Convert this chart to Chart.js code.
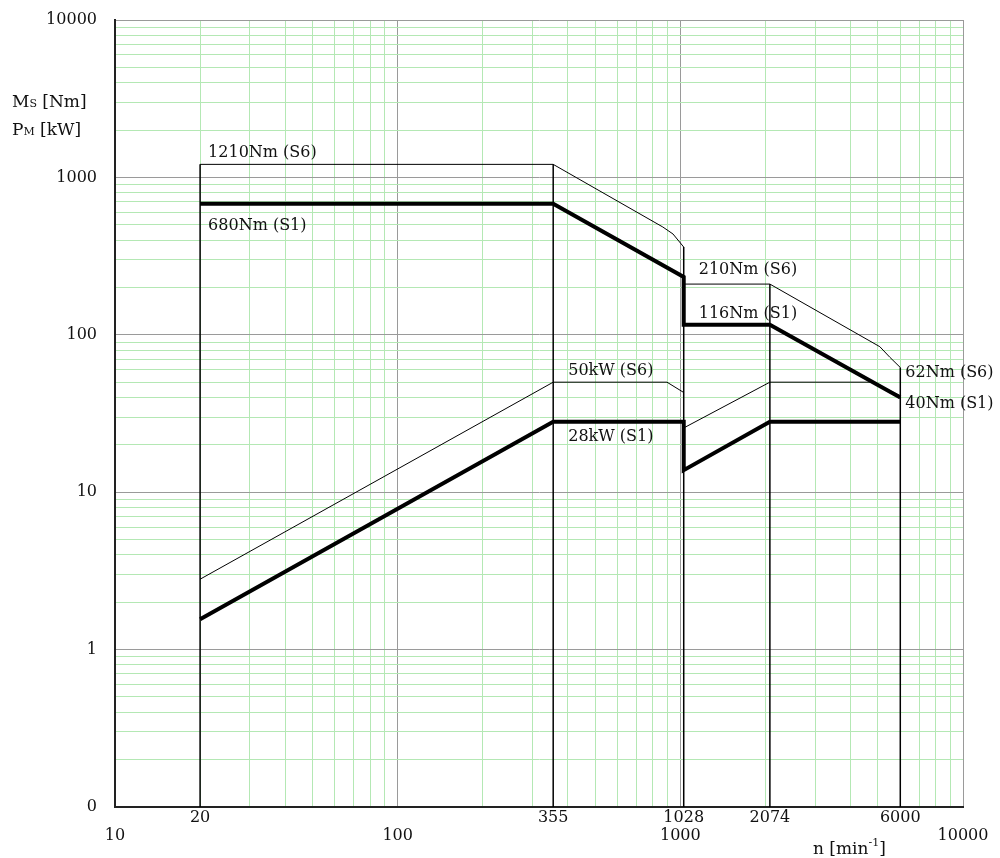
<!DOCTYPE html>
<html>
<head>
<meta charset="utf-8">
<script src="https://cdn.jsdelivr.net/npm/chart.js@4/dist/chart.umd.min.js"></script>
<style>
  body { margin: 0; background: #fff; }
  canvas { display: block; }
</style>
</head>
<body>
<canvas id="chart" width="1000" height="858"></canvas>
<script>
// Axis ticks
const xDecades = [10, 100, 1000, 10000];
const xDecadeLabels = ['10', '100', '1000', '10000'];
const xMarks = [20, 355, 1028, 2074, 6000];
const xMarkLabels = ['20', '355', '1028', '2074', '6000'];
const yDecades = [0.1, 1, 10, 100, 1000, 10000];
const yDecadeLabels = ['0', '1', '10', '100', '1000', '10000'];

// Torque curves (Nm) vs speed (min-1)
const s1TorqueRpm = [20, 355, 1028, 1028, 2074, 6000];
const s1TorqueNm = [680, 680, 233, 116, 116, 40];
const s6TorqueRpm = [20, 355, 867, 942, 1028];
const s6TorqueNm = [1210, 1210, 484, 437, 361];
const s6Torque2Rpm = [1028, 2074, 5080, 5510, 6000];
const s6Torque2Nm = [210, 210, 84, 72, 62];

// Power curves (kW) vs speed
const s1PowerRpm = [20, 355, 1028, 1028, 2074, 6000];
const s1PowerKw = [1.56, 28, 28, 13.8, 28, 28];
const s6PowerRpm = [20, 355, 897, 1028];
const s6PowerKw = [2.8, 50, 50, 43];
const s6Power2Rpm = [1028, 2074, 4800, 6000];
const s6Power2Kw = [25.6, 50, 50, 41];

// Vertical drop lines at the corner speeds
const dropRpm = [20, 355, 1028, 2074, 6000];
const dropTop = [1210, 1210, 361, 210, 62];
const dropBottom = 0.1;

// Curve labels, anchored at a data point
const curveLabels = [
    { text: '1210Nm (S6)', at: [20, 1210], dx: 8, dy: -12 },
    { text: '680Nm (S1)', at: [20, 680], dx: 8, dy: 22 },
    { text: '50kW (S6)', at: [355, 50], dx: 15, dy: -11 },
    { text: '28kW (S1)', at: [355, 28], dx: 15, dy: 15 },
    { text: '210Nm (S6)', at: [1028, 210], dx: 15, dy: -14 },
    { text: '116Nm (S1)', at: [1028, 116], dx: 15, dy: -11 },
    { text: '62Nm (S6)', at: [6000, 62], dx: 5, dy: 5 },
    { text: '40Nm (S1)', at: [6000, 40], dx: 5, dy: 6 }
];

const FONT = '"DejaVu Serif", "Liberation Serif", serif';
const MAJOR_GRID = '#9a9a9a';
const MINOR_GRID = 'rgb(180, 232, 180)';

function toPoints(xs, ys) {
    return xs.map((x, i) => ({ x: x, y: ys[i] }));
}

function near(a, b) {
    return Math.abs(a - b) < 1e-9 * Math.max(1, Math.abs(b));
}

// 1..9 x 10^k grid values between min and max
function logGrid(min, max) {
    const out = [];
    for (let e = Math.floor(Math.log10(min)); e <= Math.log10(max); e++) {
        for (let m = 1; m <= 9; m++) {
            const v = Number((m * Math.pow(10, e)).toPrecision(6));
            if (v >= min && v <= max) out.push(v);
        }
    }
    return out;
}

function lineSet(label, data, width) {
    return {
        label: label,
        data: data,
        showLine: true,
        borderColor: '#000',
        backgroundColor: '#000',
        borderWidth: width,
        pointRadius: 0,
        borderJoinStyle: 'miter',
        tension: 0
    };
}

const datasets = [
    lineSet('S1 torque', toPoints(s1TorqueRpm, s1TorqueNm), 4),
    lineSet('S6 torque', toPoints(s6TorqueRpm, s6TorqueNm), 1),
    lineSet('S6 torque 2', toPoints(s6Torque2Rpm, s6Torque2Nm), 1),
    lineSet('S1 power', toPoints(s1PowerRpm, s1PowerKw), 4),
    lineSet('S6 power', toPoints(s6PowerRpm, s6PowerKw), 1),
    lineSet('S6 power 2', toPoints(s6Power2Rpm, s6Power2Kw), 1)
];
dropRpm.forEach((r, i) => {
    datasets.push(lineSet('drop ' + r, [{ x: r, y: dropBottom }, { x: r, y: dropTop[i] }], 1.5));
});

// Draw a label with a sub/superscript part
function drawScript(ctx, x, y, parts) {
    let cx = x;
    parts.forEach(p => {
        ctx.font = (p.size || 17) + 'px ' + FONT;
        ctx.fillText(p.t, cx, y + (p.shift || 0));
        cx += ctx.measureText(p.t).width;
    });
}

const textPlugin = {
    id: 'textLabels',
    afterDatasetsDraw(chart) {
        const ctx = chart.ctx;
        const xs = chart.scales.x;
        const ys = chart.scales.y;
        ctx.save();
        ctx.fillStyle = '#111';
        ctx.textBaseline = 'middle';
        ctx.textAlign = 'left';
        ctx.font = '16px ' + FONT;
        curveLabels.forEach(l => {
            ctx.fillText(l.text, xs.getPixelForValue(l.at[0]) + l.dx, ys.getPixelForValue(l.at[1]) + l.dy);
        });
        ctx.textBaseline = 'alphabetic';
        drawScript(ctx, 12, 107, [{ t: 'M' }, { t: 'S', size: 11 }, { t: ' [Nm]' }]);
        drawScript(ctx, 12, 135, [{ t: 'P' }, { t: 'M', size: 11 }, { t: ' [kW]' }]);
        drawScript(ctx, 813, 854, [{ t: 'n [min' }, { t: '-1', size: 11, shift: -8 }, { t: ']' }]);
        ctx.restore();
    }
};

document.addEventListener('DOMContentLoaded', function() {
    const ctx = document.getElementById('chart').getContext('2d');
    new Chart(ctx, {
        type: 'scatter',
        data: { datasets: datasets },
        plugins: [textPlugin],
        options: {
            responsive: false,
            animation: false,
            layout: { padding: { top: 20, right: 37, left: 0, bottom: 0 } },
            plugins: {
                legend: { display: false },
                tooltip: { enabled: false }
            },
            scales: {
                x: {
                    type: 'logarithmic',
                    min: 10,
                    max: 10000,
                    afterBuildTicks: function(scale) {
                        const vals = logGrid(10, 10000);
                        xMarks.forEach(m => { if (!vals.some(v => near(v, m))) vals.push(m); });
                        vals.sort((a, b) => a - b);
                        scale.ticks = vals.map(v => ({ value: v }));
                    },
                    afterFit: function(scale) { scale.height = 51; },
                    grid: {
                        drawTicks: false,
                        lineWidth: 1,
                        color: function(c) {
                            const v = c.tick ? c.tick.value : 0;
                            if (xDecades.some(d => near(d, v))) return MAJOR_GRID;
                            if (xMarks.some(m => near(m, v)) && !logGrid(10, 10000).some(g => near(g, v))) return 'rgba(0,0,0,0)';
                            return MINOR_GRID;
                        }
                    },
                    border: { display: true, color: '#222', width: 2 },
                    ticks: {
                        autoSkip: false,
                        maxRotation: 0,
                        minRotation: 0,
                        padding: 2,
                        color: '#111',
                        font: { family: FONT, size: 16, lineHeight: 1.125 },
                        callback: function(value) {
                            const mi = xMarks.findIndex(m => near(m, value));
                            if (mi >= 0) return xMarkLabels[mi];
                            const di = xDecades.findIndex(d => near(d, value));
                            if (di >= 0) return ['', xDecadeLabels[di]];
                            return '';
                        }
                    }
                },
                y: {
                    type: 'logarithmic',
                    min: 0.1,
                    max: 10000,
                    afterBuildTicks: function(scale) {
                        scale.ticks = logGrid(0.1, 10000).map(v => ({ value: v }));
                    },
                    afterFit: function(scale) {
                        scale.width = 115;
                        scale.paddingTop = 0;
                        scale.paddingBottom = 0;
                    },
                    grid: {
                        drawTicks: false,
                        lineWidth: 1,
                        color: function(c) {
                            const v = c.tick ? c.tick.value : 0;
                            return yDecades.some(d => near(d, v)) ? MAJOR_GRID : MINOR_GRID;
                        }
                    },
                    border: { display: true, color: '#222', width: 2 },
                    ticks: {
                        autoSkip: false,
                        padding: 18,
                        color: '#111',
                        font: { family: FONT, size: 16 },
                        callback: function(value) {
                            const di = yDecades.findIndex(d => near(d, value));
                            return di >= 0 ? yDecadeLabels[di] : '';
                        }
                    }
                }
            }
        }
    });
});
</script>
</body>
</html>
